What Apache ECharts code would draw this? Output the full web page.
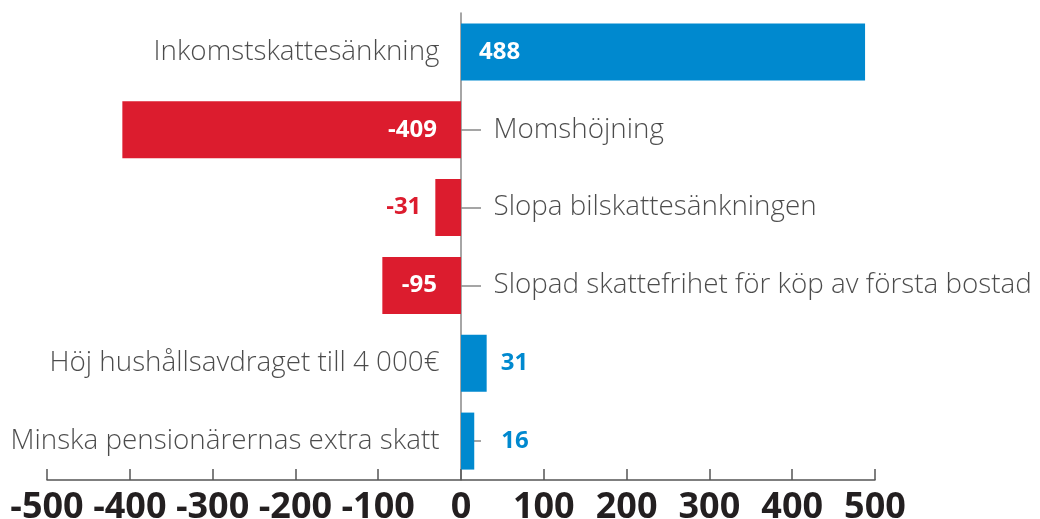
<!DOCTYPE html>
<html>
<head>
    <meta charset="UTF-8">
    <title></title>
    <script type="text/javascript" src="https://cdn.jsdelivr.net/npm/echarts@6/dist/echarts.min.js"></script>
    <style>
        html, body { margin: 0; padding: 0; background: #fff; }
        #main { width: 1040px; height: 519px; }
    </style>
</head>
<body>
<div id="main"></div>
<script>
    // data
    var categories = [
        'Inkomstskattesänkning',
        'Momshöjning',
        'Slopa bilskattesänkningen',
        'Slopad skattefrihet för köp av första bostad',
        'Höj hushållsavdraget till 4 000€',
        'Minska pensionärernas extra skatt'
    ];
    var values = [488, -409, -31, -95, 31, 16];
    var xTicks = [-500, -400, -300, -200, -100, 0, 100, 200, 300, 400, 500];

    var blue = '#0089cf';
    var red = '#dc1c2e';
    var pxPerUnit = 828 / 1000;

    var barData = values.map(function (v) {
        var big = Math.abs(v) >= 90;
        var col = v >= 0 ? blue : red;
        var lab;
        if (big) {
            lab = {
                position: v >= 0 ? 'insideLeft' : 'insideRight',
                distance: v >= 0 ? 18 : 24,
                color: '#fff'
            };
        } else {
            lab = {
                position: v >= 0 ? 'right' : 'left',
                distance: Math.round(40 - Math.abs(v) * pxPerUnit),
                color: col
            };
        }
        return { value: v, itemStyle: { color: col }, label: lab };
    });

    // category names sit on the opposite side of the bar
    var nameData = values.map(function (v, i) {
        return {
            value: [0, i],
            label: {
                formatter: categories[i],
                position: v >= 0 ? 'left' : 'right',
                distance: v >= 0 ? 21 : 32
            }
        };
    });

    var myChart = echarts.init(document.getElementById('main'));
    myChart.setOption({
        animation: false,
        grid: { left: 47, right: 165, top: 13, bottom: 39, outerBoundsMode: 'none' },
        xAxis: {
            type: 'value',
            min: -500,
            max: 500,
            interval: 100,
            splitLine: { show: false },
            axisLine: { show: true, onZero: false, lineStyle: { color: '#555', width: 1.5 } },
            axisTick: { show: true, inside: true, length: 11, lineStyle: { color: '#555', width: 1.5 } },
            axisLabel: {
                margin: 10,
                fontFamily: 'Open Sans',
                fontWeight: 'bold',
                fontSize: 36,
                color: '#231f20',
                formatter: function (v) { return xTicks.indexOf(v) >= 0 ? String(v) : ''; }
            }
        },
        yAxis: {
            type: 'category',
            inverse: true,
            data: categories,
            axisLine: { show: true, onZero: true, lineStyle: { color: '#888', width: 1.5 } },
            axisTick: { show: true, inside: true, alignWithLabel: true, length: 20, lineStyle: { color: '#888', width: 1.5 } },
            axisLabel: { show: false }
        },
        series: [{
            type: 'bar',
            data: barData,
            barWidth: 57,
            z: 3,
            label: {
                show: true,
                fontFamily: 'Open Sans',
                fontWeight: 'bold',
                fontSize: 24
            }
        }, {
            type: 'scatter',
            data: nameData,
            symbolSize: 1,
            itemStyle: { color: 'transparent' },
            silent: true,
            z: 4,
            label: {
                show: true,
                fontFamily: 'Open Sans',
                fontWeight: 300,
                fontSize: 27.8,
                color: '#1e1e1e'
            }
        }]
    });
</script>
</body>
</html>
